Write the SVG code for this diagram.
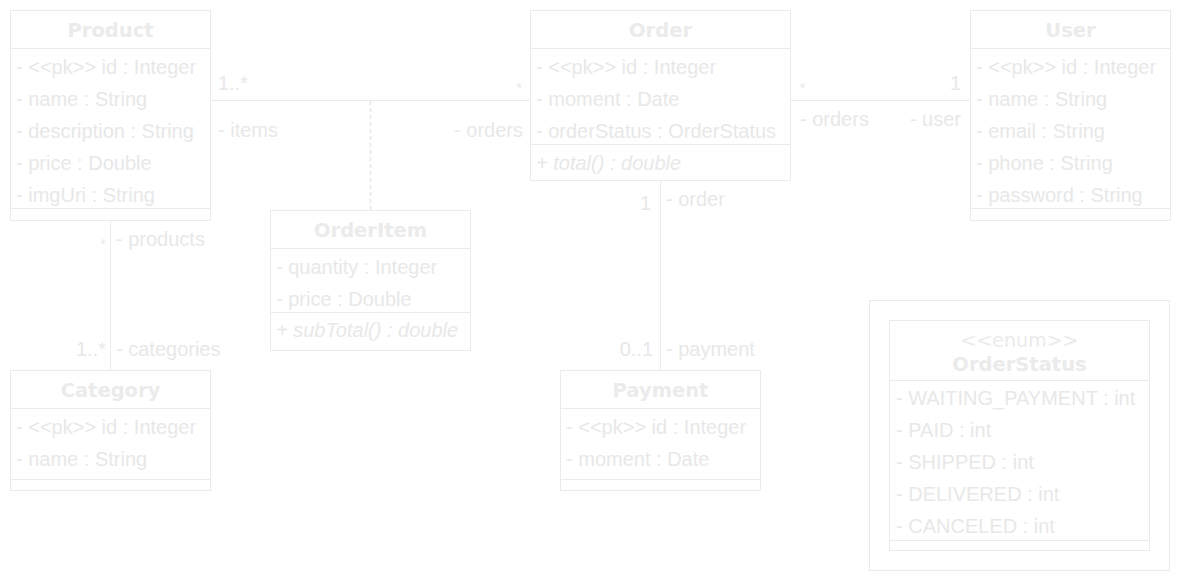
<svg xmlns="http://www.w3.org/2000/svg" width="1182" height="581" viewBox="0 0 1182 581">
<style>
.box{fill:#ffffff;stroke:#ebebeb;stroke-width:1}
.sep{stroke:#ebebeb;stroke-width:1;fill:none}
.ttl{font-family:Verdana,"DejaVu Sans",sans-serif;font-weight:bold;font-size:19.5px;fill:#ebebeb;text-anchor:middle}
.ster{font-family:Verdana,"DejaVu Sans",sans-serif;font-size:19px;fill:#ebebeb;text-anchor:middle}
.at{font-family:"Liberation Sans",Arial,sans-serif;font-size:20px;fill:#e8e8e8}
.mt{font-family:"Liberation Sans",Arial,sans-serif;font-size:20px;fill:#e8e8e8;font-style:italic}
.lb{font-family:"Liberation Sans",Arial,sans-serif;font-size:20px;fill:#e8e8e8}
.sm{font-family:"Liberation Sans",Arial,sans-serif;font-size:14px;fill:#e8e8e8}
.end{text-anchor:end}
.ln{stroke:#ebebeb;stroke-width:1;fill:none}
.dash{stroke:#e6e6e6;stroke-width:1.5;fill:none;stroke-dasharray:4 3}
</style>
<rect width="1182" height="581" fill="#ffffff"/>
<g id="connectors">
<line class="ln" x1="210" y1="100.5" x2="530" y2="100.5"/>
<line class="dash" x1="370.5" y1="101" x2="370.5" y2="210"/>
<line class="ln" x1="790" y1="100.5" x2="970" y2="100.5"/>
<line class="ln" x1="110.5" y1="220" x2="110.5" y2="370"/>
<line class="ln" x1="660.5" y1="180" x2="660.5" y2="370"/>
<text class="lb" x="218" y="90">1..*</text>
<text class="lb" x="218" y="137">- items</text>
<text class="sm end" x="522" y="93">*</text>
<text class="lb end" x="523" y="137">- orders</text>
<text class="sm" x="800" y="93">*</text>
<text class="lb" x="800" y="126">- orders</text>
<text class="lb end" x="961" y="90">1</text>
<text class="lb end" x="961" y="126">- user</text>
<text class="sm end" x="106" y="249">*</text>
<text class="lb" x="116" y="246">- products</text>
<text class="lb end" x="106" y="356">1..*</text>
<text class="lb" x="116" y="356">- categories</text>
<text class="lb end" x="651" y="210">1</text>
<text class="lb" x="666" y="206">- order</text>
<text class="lb end" x="653" y="356">0..1</text>
<text class="lb" x="666" y="356">- payment</text>
</g>
<g id="product">
<rect class="box" x="10.5" y="10.5" width="200" height="210"/>
<line class="sep" x1="10" y1="48.5" x2="211" y2="48.5"/>
<line class="sep" x1="10" y1="208.5" x2="211" y2="208.5"/>
<text class="ttl" x="110.5" y="36.5">Product</text>
<text class="at" x="16" y="74">- &lt;&lt;pk&gt;&gt; id : Integer</text>
<text class="at" x="16" y="106">- name : String</text>
<text class="at" x="16" y="138">- description : String</text>
<text class="at" x="16" y="170">- price : Double</text>
<text class="at" x="16" y="202">- imgUri : String</text>
</g>
<g id="order">
<rect class="box" x="530.5" y="10.5" width="260" height="170"/>
<line class="sep" x1="530" y1="48.5" x2="791" y2="48.5"/>
<line class="sep" x1="530" y1="144.5" x2="791" y2="144.5"/>
<text class="ttl" x="660.5" y="36.5">Order</text>
<text class="at" x="536" y="74">- &lt;&lt;pk&gt;&gt; id : Integer</text>
<text class="at" x="536" y="106">- moment : Date</text>
<text class="at" x="536" y="138">- orderStatus : OrderStatus</text>
<text class="mt" x="536" y="170">+ total() : double</text>
</g>
<g id="user">
<rect class="box" x="970.5" y="10.5" width="200" height="210"/>
<line class="sep" x1="970" y1="48.5" x2="1171" y2="48.5"/>
<line class="sep" x1="970" y1="208.5" x2="1171" y2="208.5"/>
<text class="ttl" x="1070.5" y="36.5">User</text>
<text class="at" x="976" y="74">- &lt;&lt;pk&gt;&gt; id : Integer</text>
<text class="at" x="976" y="106">- name : String</text>
<text class="at" x="976" y="138">- email : String</text>
<text class="at" x="976" y="170">- phone : String</text>
<text class="at" x="976" y="202">- password : String</text>
</g>
<g id="orderitem">
<rect class="box" x="270.5" y="210.5" width="200" height="140"/>
<line class="sep" x1="270" y1="248.5" x2="471" y2="248.5"/>
<line class="sep" x1="270" y1="312.5" x2="471" y2="312.5"/>
<text class="ttl" x="370.5" y="236.5">OrderItem</text>
<text class="at" x="276" y="274">- quantity : Integer</text>
<text class="at" x="276" y="306">- price : Double</text>
<text class="mt" x="276" y="337">+ subTotal() : double</text>
</g>
<g id="category">
<rect class="box" x="10.5" y="370.5" width="200" height="120"/>
<line class="sep" x1="10" y1="408.5" x2="211" y2="408.5"/>
<line class="sep" x1="10" y1="479.5" x2="211" y2="479.5"/>
<text class="ttl" x="110.5" y="396.5">Category</text>
<text class="at" x="16" y="434">- &lt;&lt;pk&gt;&gt; id : Integer</text>
<text class="at" x="16" y="466">- name : String</text>
</g>
<g id="payment">
<rect class="box" x="560.5" y="370.5" width="200" height="120"/>
<line class="sep" x1="560" y1="408.5" x2="761" y2="408.5"/>
<line class="sep" x1="560" y1="479.5" x2="761" y2="479.5"/>
<text class="ttl" x="660.5" y="396.5">Payment</text>
<text class="at" x="566" y="434">- &lt;&lt;pk&gt;&gt; id : Integer</text>
<text class="at" x="566" y="466">- moment : Date</text>
</g>
<g id="orderstatus">
<rect class="box" x="869.5" y="300.5" width="300" height="270"/>
<rect class="box" x="889.5" y="320.5" width="260" height="230"/>
<line class="sep" x1="889" y1="380.5" x2="1150" y2="380.5"/>
<line class="sep" x1="889" y1="540.5" x2="1150" y2="540.5"/>
<text class="ster" x="1019.5" y="347">&lt;&lt;enum&gt;&gt;</text>
<text class="ttl" x="1019.5" y="371">OrderStatus</text>
<text class="at" x="896" y="405">- WAITING_PAYMENT : int</text>
<text class="at" x="896" y="437">- PAID : int</text>
<text class="at" x="896" y="469">- SHIPPED : int</text>
<text class="at" x="896" y="501">- DELIVERED : int</text>
<text class="at" x="896" y="533">- CANCELED : int</text>
</g>
</svg>
